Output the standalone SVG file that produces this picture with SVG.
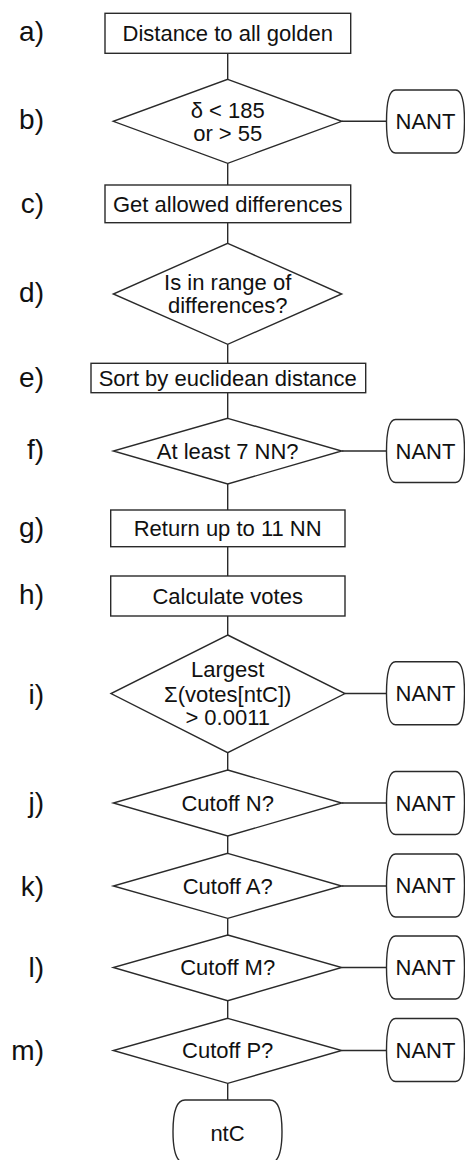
<svg xmlns="http://www.w3.org/2000/svg" width="465" height="1160" viewBox="0 0 465 1160">
<style>
.s{fill:#fff;stroke:#2a2a2a;stroke-width:1.4}
.t{font-family:"Liberation Sans",Arial,sans-serif;font-size:22px;fill:#111;text-anchor:middle}
.lb{font-family:"Liberation Sans",Arial,sans-serif;font-size:28px;fill:#111;text-anchor:end}
.c{stroke:#2a2a2a;stroke-width:1.4;fill:none}
</style>
<defs>
<path id="nant" d="M -30,-31.5 H 30 C 36,-31.5 39,-22 39,0 C 39,22 36,31.5 30,31.5 H -30 C -36,31.5 -39,22 -39,0 C -39,-22 -36,-31.5 -30,-31.5 Z"/>
</defs>
<rect width="465" height="1160" fill="#fff"/>
<g id="connectors" class="c">
<line x1="227.7" y1="53.3" x2="227.7" y2="79.3"/>
<line x1="227.7" y1="163.3" x2="227.7" y2="185"/>
<line x1="227.7" y1="222.7" x2="227.7" y2="243.3"/>
<line x1="227.7" y1="344.3" x2="227.7" y2="363.3"/>
<line x1="227.7" y1="392.7" x2="227.7" y2="418.3"/>
<line x1="227.7" y1="484" x2="227.7" y2="510"/>
<line x1="227.7" y1="546.7" x2="227.7" y2="576"/>
<line x1="227.7" y1="616" x2="227.7" y2="635"/>
<line x1="227.7" y1="752.7" x2="227.7" y2="770"/>
<line x1="227.7" y1="836" x2="227.7" y2="853.3"/>
<line x1="227.7" y1="918.3" x2="227.7" y2="935"/>
<line x1="227.7" y1="1000.7" x2="227.7" y2="1018.3"/>
<line x1="227.7" y1="1083.3" x2="227.7" y2="1100"/>
<line x1="341.7" y1="121.3" x2="386.5" y2="121.3"/>
<line x1="341.7" y1="451" x2="386.5" y2="451"/>
<line x1="345" y1="693.5" x2="386.5" y2="693.5"/>
<line x1="341.7" y1="803" x2="386.5" y2="803"/>
<line x1="341.7" y1="886" x2="386.5" y2="886"/>
<line x1="341.7" y1="967.5" x2="386.5" y2="967.5"/>
<line x1="341.7" y1="1050.5" x2="386.5" y2="1050.5"/>
</g>
<g id="labels">
<text class="lb" x="44" y="41">a)</text>
<text class="lb" x="44" y="129">b)</text>
<text class="lb" x="44" y="213">c)</text>
<text class="lb" x="44" y="302">d)</text>
<text class="lb" x="44" y="386.5">e)</text>
<text class="lb" x="44" y="459">f)</text>
<text class="lb" x="44" y="537">g)</text>
<text class="lb" x="44" y="604">h)</text>
<text class="lb" x="44" y="704">i)</text>
<text class="lb" x="44" y="812">j)</text>
<text class="lb" x="44" y="896">k)</text>
<text class="lb" x="44" y="977">l)</text>
<text class="lb" x="44" y="1060">m)</text>
</g>
<g id="node-a"><rect class="s" x="105" y="13.3" width="245.7" height="40"/><text class="t" x="227.7" y="41.2">Distance to all golden</text></g>
<g id="node-b"><polygon class="s" points="227.7,79.3 341.7,121.3 227.7,163.3 113.3,121.3"/><text class="t" x="227.7" y="117.5">δ &lt; 185</text><text class="t" x="227.7" y="140.5">or &gt; 55</text></g>
<g id="node-c"><rect class="s" x="105" y="185" width="245.7" height="37.7"/><text class="t" x="227.7" y="211.7">Get allowed differences</text></g>
<g id="node-d"><polygon class="s" points="227.7,243.3 341.7,294 227.7,344.3 113.3,294"/><text class="t" x="227.7" y="290">Is in range of</text><text class="t" x="227.7" y="313.3">differences?</text></g>
<g id="node-e"><rect class="s" x="91" y="363.3" width="274.7" height="29.4"/><text class="t" x="227.7" y="385.8">Sort by euclidean distance</text></g>
<g id="node-f"><polygon class="s" points="227.7,418.3 341.7,451 227.7,484 113.3,451"/><text class="t" x="227.7" y="458.8">At least 7 NN?</text></g>
<g id="node-g"><rect class="s" x="110.7" y="510" width="234.3" height="36.7"/><text class="t" x="227.7" y="536">Return up to 11 NN</text></g>
<g id="node-h"><rect class="s" x="110.7" y="576" width="234.3" height="40"/><text class="t" x="227.7" y="603.8">Calculate votes</text></g>
<g id="node-i"><polygon class="s" points="227.7,635 345,693.5 227.7,752.7 111,693.5"/><text class="t" x="227.7" y="677.3">Largest</text><text class="t" x="227.7" y="702">Σ(votes[ntC])</text><text class="t" x="227.7" y="725">&gt; 0.0011</text></g>
<g id="node-j"><polygon class="s" points="227.7,770 341.7,803 227.7,836 113.3,803"/><text class="t" x="227.7" y="810.8">Cutoff N?</text></g>
<g id="node-k"><polygon class="s" points="227.7,853.3 341.7,886 227.7,918.3 113.3,886"/><text class="t" x="227.7" y="893.8">Cutoff A?</text></g>
<g id="node-l"><polygon class="s" points="227.7,935 341.7,967.5 227.7,1000.7 113.3,967.5"/><text class="t" x="227.7" y="975.3">Cutoff M?</text></g>
<g id="node-m"><polygon class="s" points="227.7,1018.3 341.7,1050.5 227.7,1083.3 113.3,1050.5"/><text class="t" x="227.7" y="1058.3">Cutoff P?</text></g>
<g id="node-ntC"><path class="s" d="M 185,1100 H 270 C 278,1100 282,1110 282,1131.5 C 282,1153 278,1163 270,1163 H 185 C 177,1163 173,1153 173,1131.5 C 173,1110 177,1100 185,1100 Z"/><text class="t" x="227.5" y="1141">ntC</text></g>
<g id="nant-b"><use href="#nant" class="s" transform="translate(425.5,121.5)"/><text class="t" x="425.5" y="129.3">NANT</text></g>
<g id="nant-f"><use href="#nant" class="s" transform="translate(425.5,451)"/><text class="t" x="425.5" y="458.8">NANT</text></g>
<g id="nant-i"><use href="#nant" class="s" transform="translate(425.5,693.3)"/><text class="t" x="425.5" y="701.1">NANT</text></g>
<g id="nant-j"><use href="#nant" class="s" transform="translate(425.5,803)"/><text class="t" x="425.5" y="810.8">NANT</text></g>
<g id="nant-k"><use href="#nant" class="s" transform="translate(425.5,885.5)"/><text class="t" x="425.5" y="893.3">NANT</text></g>
<g id="nant-l"><use href="#nant" class="s" transform="translate(425.5,967.5)"/><text class="t" x="425.5" y="975.3">NANT</text></g>
<g id="nant-m"><use href="#nant" class="s" transform="translate(425.5,1050)"/><text class="t" x="425.5" y="1057.8">NANT</text></g>
</svg>
